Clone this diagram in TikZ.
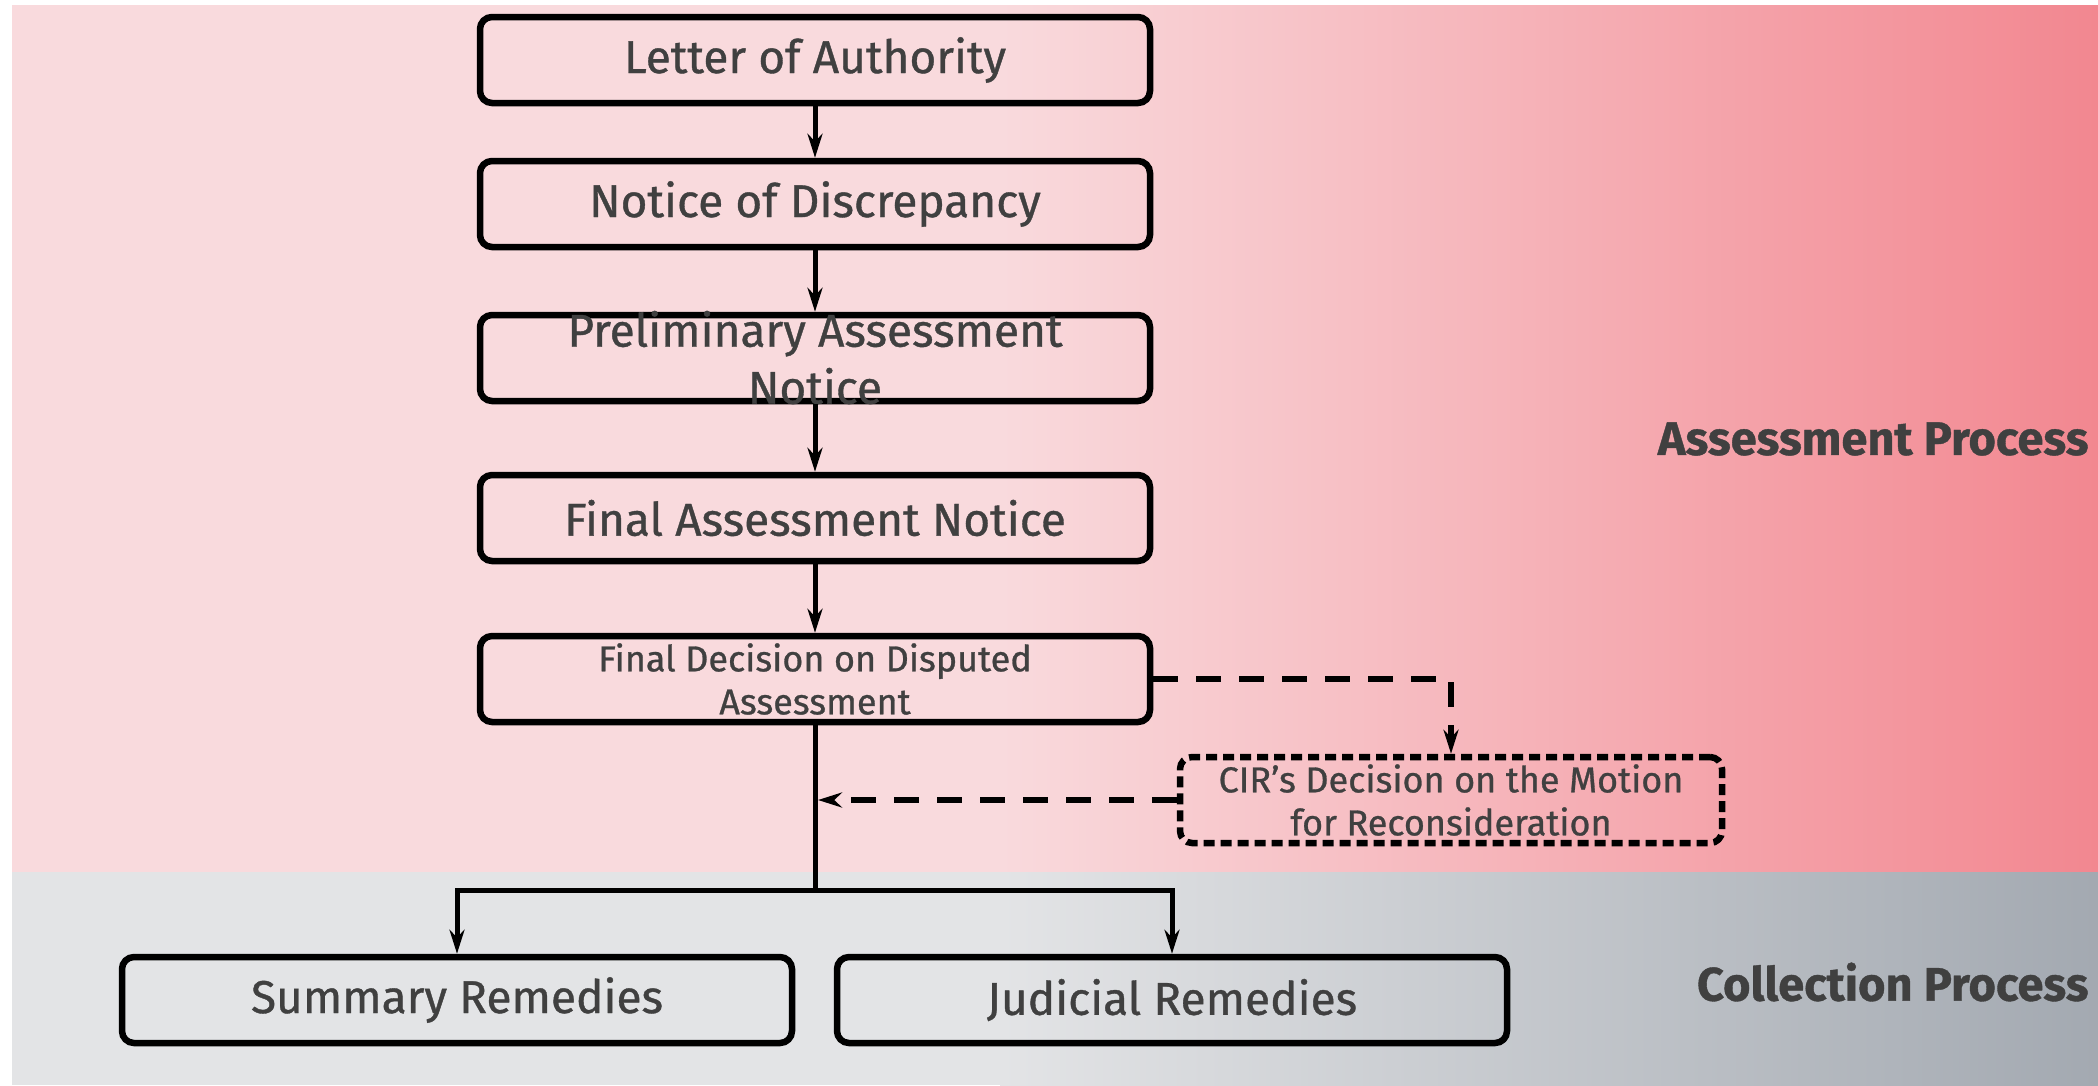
\documentclass[tikz,border=0pt]{standalone}
\usepackage{fontspec}
\setmainfont{Fira Sans}[FakeBold=0.8]
\usetikzlibrary{arrows.meta}

\definecolor{pinkL}{HTML}{F9DADD}
\definecolor{pinkR}{HTML}{F28790}
\definecolor{greyL}{HTML}{E3E4E6}
\definecolor{greyR}{HTML}{A3A9B1}
\definecolor{ink}{HTML}{404040}

\begin{document}
\begin{tikzpicture}[x=1pt,y=-1pt,
        doc/.style = {draw=black,line width=6.5pt,rounded corners=12pt,
                      minimum width=670pt,minimum height=86pt,inner sep=0pt,
                      align=center,text=ink,font=\fontsize{46}{57}\selectfont},
        small/.style = {font=\fontsize{36}{43}\selectfont},
        flow/.style = {line width=5pt,-{Stealth[length=24pt,width=15pt]}},
        dflow/.style = {flow,line width=5.5pt,dash pattern=on 25pt off 18pt},
        side/.style = {anchor=east,text=ink,font=\bfseries\fontsize{47}{55}\selectfont}]
                \useasboundingbox (0,0) rectangle (2098,1085);

                % Background

                \fill[pinkL] (12,5) rectangle (1000,872);
                \shade[left color=pinkL,right color=pinkR] (1000,5) rectangle (2098,872);
                \fill[greyL] (12,872) rectangle (1000,1085);
                \shade[left color=greyL,right color=greyR] (1000,872) rectangle (2098,1085);

                \node[side] (ap) at (2092,439) {Assessment Process};
                \node[side] (cp) at (2092,982) {Collection Process};

                % Boxes

                \node[doc] (loa)  at (815,60)  {Letter of Authority};
                \node[doc] (nod)  at (815,204) {Notice of Discrepancy};
                \node[doc] (pan)  at (815,358) {\smash{\raisebox{-12pt}{\begin{tabular}{@{}c@{}}Preliminary Assessment\\Notice\end{tabular}}}};
                \node[doc] (fan)  at (815,518) {Final Assessment Notice};
                \node[doc,small] (fdda) at (815,679) {Final Decision on Disputed\\Assessment};
                \node[doc,small,dash pattern=on 11pt off 6pt,minimum width=542pt] (cir) at (1451,800)
                        {CIR's Decision on the Motion\\for Reconsideration};
                \node[doc] (sum)  at (457,1000)  {Summary Remedies};
                \node[doc] (jud)  at (1172,1000) {Judicial Remedies};

                \coordinate (split) at (815,890);
                \coordinate (join)  at (818,800);

                % Arrows

                \draw[flow] (loa) -- (nod);
                \draw[flow] (nod) -- (pan);
                \draw[flow] (pan) -- (fan);
                \draw[flow] (fan) -- (fdda);
                \draw[line width=5pt] (fdda) -- (split);
                \draw[flow] (split) -| (sum);
                \draw[flow] (split) -| (jud);

                \draw[dflow] (fdda.east) -| (cir.north);
                \draw[dflow] (cir.west) -- (join);
            \end{tikzpicture}
\end{document}
